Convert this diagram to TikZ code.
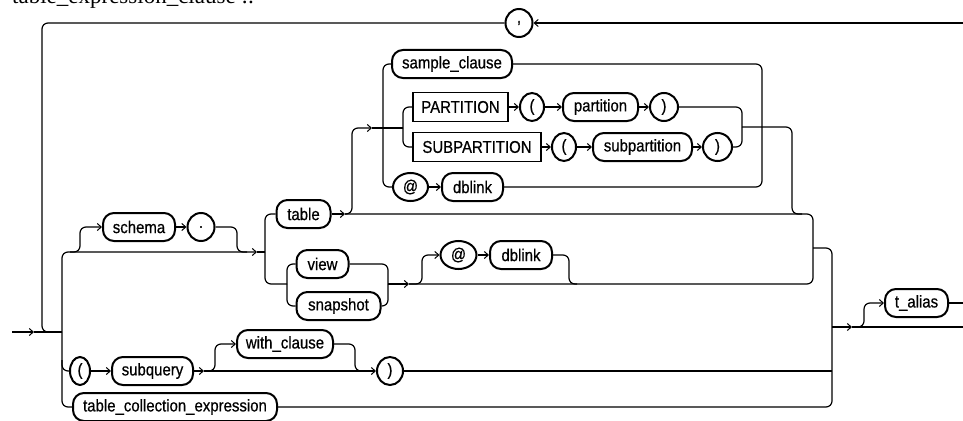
\documentclass[tikz,border=0pt]{standalone}
\usepackage{fontspec}
\setmainfont[FakeStretch=0.88,FakeBold=0.6]{Liberation Sans}
\newfontfamily\ttlfont{Liberation Serif}
\usetikzlibrary{arrows.meta,shapes.geometric}
\begin{document}
\begin{tikzpicture}[x=1pt,y=-1pt,
  conn/.style={line width=1.2pt, rounded corners=6pt},
  arr/.style={-{Straight Barb[length=4pt,width=7pt,line width=1pt]}},
  nt/.style={draw, line width=2pt, rectangle, rounded corners=11pt, minimum height=28pt,
    inner xsep=5pt, inner ysep=0pt, font=\fontsize{17}{20}\selectfont},
  kw/.style={draw, line width=2pt, ellipse, minimum height=28pt, inner sep=0pt,
    font=\fontsize{17}{20}\selectfont},
  kwbox/.style={draw, line width=1.3pt, rectangle, minimum height=29pt, inner xsep=5pt,
    inner ysep=0pt, font=\fontsize{17}{20}\selectfont},
  ttl/.style={anchor=base west, inner sep=0pt, font=\ttlfont\fontsize{23}{26}\selectfont}
]
\useasboundingbox (0,0) rectangle (963,420);

% title (cut off at the top, as in the reference)
\node[ttl] (title) at (12,4) {table\_expression\_clause ::=};

% nodes
\node[kw, minimum width=27pt] (comma) at (519,23) {,};
\node[nt, minimum width=72pt] (schema) at (139,227) {schema};
\node[kw, minimum width=27pt] (dot) at (201,227) {.};
\node[nt, minimum width=54pt] (table) at (303.5,214) {table};
\node[nt, minimum width=52pt] (view) at (322.5,264) {view};
\node[nt, minimum width=84pt] (snapshot) at (338.5,306) {snapshot};
\node[kw, minimum width=36pt] (at2) at (458.5,255) {@};
\node[nt, minimum width=62pt] (dblink2) at (521,255) {dblink};
\node[nt, minimum width=120pt] (sample) at (452,64) {sample\_clause};
\node[kwbox, minimum width=95pt] (part) at (460.5,107) {PARTITION};
\node[kw, minimum width=24pt] (lp1) at (532,107) {(};
\node[nt, minimum width=75pt] (partition) at (600.5,107) {partition};
\node[kw, minimum width=28pt] (rp1) at (664,107) {)};
\node[kwbox, minimum width=128pt] (subp) at (477,147) {SUBPARTITION};
\node[kw, minimum width=24pt] (lp2) at (564,147) {(};
\node[nt, minimum width=99pt] (subpartition) at (642.5,147) {subpartition};
\node[kw, minimum width=29pt] (rp2) at (717.5,147) {)};
\node[kw, minimum width=35pt] (at1) at (410.5,187) {@};
\node[nt, minimum width=61pt] (dblink1) at (472.5,187) {dblink};
\node[kw, minimum width=20pt] (lp3) at (80,371) {(};
\node[nt, minimum width=81pt] (subquery) at (152.5,371) {subquery};
\node[nt, minimum width=96pt] (with) at (285,344) {with\_clause};
\node[kw, minimum width=26pt] (rp3) at (390,371) {)};
\node[nt, minimum width=204pt] (tce) at (175,407) {table\_collection\_expression};
\node[nt, minimum width=63pt] (talias) at (916.5,303) {t\_alias};

% coordinates
\coordinate (start) at (12,332);
\coordinate (a1) at (34,332);
\coordinate (bL) at (62,332);
\coordinate (lr) at (963,23);
\coordinate (tvA) at (257,252);
\coordinate (tv) at (265,252);
\coordinate (vs) at (287,284);
\coordinate (vo) at (388,284);
\coordinate (va) at (409,284);
\coordinate (ta) at (345,214);
\coordinate (m1) at (813,248);
\coordinate (sa) at (372,128);
\coordinate (ob) at (383,128);
\coordinate (pb) at (403,128);
\coordinate (pr) at (742,127);
\coordinate (sqa) at (204,371);
\coordinate (ex) at (832,327);
\coordinate (exa) at (852,327);
\coordinate (endA) at (963,327);
\coordinate (endB) at (963,303);

% entry and loop
\draw[conn,arr] (start) -- (a1);
\draw[conn] (a1) -- (bL);
\draw[conn,arr] (lr) -- (comma);
\draw[conn] (comma) -- (42,23) -- (42,332) -- (52,332);

% left bus
\draw[conn,arr] (bL) -- (62,252) -- (tvA);
\draw[conn] (tvA) -- (tv);
\draw[conn] (bL) -- (62,407) -- (tce);
\draw[conn] (62,360) -- (62,371) -- (lp3);

% schema .
\draw[conn,arr] (70,252) -| (80,227) -- (schema);
\draw[conn,arr] (schema) -- (dot);
\draw[conn] (dot) -- (237,227) -- (237,252) -- (247,252);

% table / view bus
\draw[conn] (tv) -- (265,214) -- (table);
\draw[conn] (tv) -- (265,284) -- (vs);
\draw[conn] (vs) -- (287,264) -- (view);
\draw[conn] (vs) -- (287,306) -- (snapshot);
\draw[conn] (view) -- (388,264) -- (vo);
\draw[conn] (snapshot) -- (388,306) -- (vo);
\draw[conn,arr] (vo) -- (va);
\draw[conn,arr] (va) -| (422,255) -- (at2);
\draw[conn,arr] (at2) -- (dblink2);
\draw[conn] (dblink2) -- (569,255) -- (569,284) -- (577,284);

% table path and merge
\draw[conn,arr] (table) -- (ta);
\draw[conn] (ta) -- (813,214) -- (813,284) -- (va);
\draw[conn] (m1) -- (832,248) -- (832,407) -- (tce);

% table suffix block
\draw[conn,arr] (ta) -| (352,128) -- (sa);
\draw[conn] (sa) -- (pb);
\draw[conn] (ob) -- (383,64) -- (sample);
\draw[conn] (ob) -- (383,187) -- (at1);
\draw[conn] (pb) -- (403,107) -- (part);
\draw[conn] (pb) -- (403,147) -- (subp);
\draw[conn,arr] (part) -- (lp1);
\draw[conn,arr] (lp1) -- (partition);
\draw[conn,arr] (partition) -- (rp1);
\draw[conn,arr] (subp) -- (lp2);
\draw[conn,arr] (lp2) -- (subpartition);
\draw[conn,arr] (subpartition) -- (rp2);
\draw[conn,arr] (at1) -- (dblink1);
\draw[conn] (rp1) -- (742,107) -- (pr);
\draw[conn] (rp2) -- (742,147) -- (pr);
\draw[conn] (pr) -- (792,127) -- (792,214) -- (802,214);
\draw[conn] (sample) -- (762,64) -- (762,127);
\draw[conn] (dblink1) -- (762,187) -- (762,127);

% subquery row
\draw[conn,arr] (lp3) -- (subquery);
\draw[conn,arr] (subquery) -- (sqa);
\draw[conn,arr] (sqa) -| (215,344) -- (with);
\draw[conn] (with) -- (355,344) -- (355,371) -- (365,371);
\draw[conn,arr] (sqa) -- (rp3);
\draw[conn] (rp3) -- (832,371);

% exit and t_alias
\draw[conn,arr] (ex) -- (exa);
\draw[conn] (exa) -- (endA);
\draw[conn,arr] (855,327) -| (864,303) -- (talias);
\draw[conn] (talias) -- (endB);
\end{tikzpicture}
\end{document}
